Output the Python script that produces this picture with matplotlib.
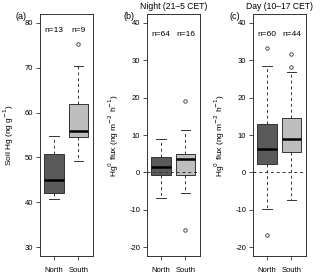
import numpy as np
import matplotlib

matplotlib.use("Agg")
import matplotlib.pyplot as plt  # noqa: E402

plt.rcParams["font.family"] = ["Liberation Sans", "DejaVu Sans"]
plt.rcParams["axes.unicode_minus"] = False

groups = ["North", "South"]

# box stats: whislo, q1, med, q3, whishi, fliers
soil_stats = [
    (40.8, 42.0, 45.0, 50.7, 54.8, []),
    (49.2, 54.5, 55.8, 62.0, 70.5, [75.2]),
]
night_stats = [
    (-7.0, -0.8, 1.3, 4.0, 9.0, []),
    (-5.5, -0.8, 3.6, 5.0, 11.3, [19.0, -15.5]),
]
day_stats = [
    (-9.8, 2.2, 6.3, 13.0, 28.5, [33.2, -16.8]),
    (-7.5, 5.5, 9.0, 14.6, 26.8, [31.8, 28.2]),
]
soil_n = ["n=13", "n=9"]
night_n = ["n=64", "n=16"]
day_n = ["n=60", "n=44"]

colors = ["#5a5a5a", "#bebebe"]
flux_label = "Hg$^0$ flux (ng m$^{-2}$ h$^{-1}$)"

panels = [
    dict(stats=soil_stats, n=soil_n, label="(a)", title=None,
         ylabel="Soil Hg (ng g$^{-1}$)", yticks=np.arange(30, 81, 10),
         ylim=(28, 82), ny=78.3, zero=False, left=40),
    dict(stats=night_stats, n=night_n, label="(b)", title="Night (21\u20135 CET)",
         ylabel=flux_label, yticks=np.arange(-20, 41, 10),
         ylim=(-22.4, 42.4), ny=36.8, zero=True, left=147),
    dict(stats=day_stats, n=day_n, label="(c)", title="Day (10\u201317 CET)",
         ylabel=flux_label, yticks=np.arange(-20, 41, 10),
         ylim=(-22.4, 42.4), ny=36.8, zero=True, left=253),
]

W, H = 320, 276
fig = plt.figure(figsize=(W / 100, H / 100), dpi=100)

for p in panels:
    ax = fig.add_axes([p["left"] / W, 20 / H, 52.5 / W, 242 / H])
    bxp = []
    for (lo, q1, med, q3, hi, fl) in p["stats"]:
        bxp.append(dict(whislo=lo, q1=q1, med=med, q3=q3, whishi=hi, fliers=fl))
    res = ax.bxp(bxp, positions=[1, 2], widths=0.8, patch_artist=True,
                 showfliers=True,
                 boxprops=dict(edgecolor="#333333", lw=0.7),
                 medianprops=dict(color="black", lw=1.8),
                 whiskerprops=dict(color="#333333", lw=0.7, ls=(0, (3, 3))),
                 capprops=dict(color="#333333", lw=0.7),
                 capwidths=0.4,
                 flierprops=dict(marker="o", markersize=2.5, markerfacecolor="none",
                                 markeredgecolor="#333333", markeredgewidth=0.6))
    for patch, c in zip(res["boxes"], colors):
        patch.set_facecolor(c)
    if p["zero"]:
        ax.axhline(0, color="#333333", lw=0.7, ls=(0, (3, 3)), zorder=5)
    ax.set_xlim(0.42, 2.58)
    ax.set_ylim(*p["ylim"])
    ax.set_yticks(p["yticks"])
    ax.set_xticks([1, 2])
    ax.set_xticklabels(groups)
    ax.tick_params(labelsize=5.5, length=3, width=0.6, pad=2, color="#333333")
    ax.tick_params(axis="x", pad=5)
    for s in ax.spines.values():
        s.set_linewidth(0.7)
        s.set_color("#333333")
    for i, t in enumerate(p["n"]):
        ax.text(i + 1, p["ny"], t, ha="center", va="center", fontsize=6)
    ax.set_ylabel(p["ylabel"], fontsize=6, labelpad=6)
    ax.text(-24 / 52.5, 0.99, p["label"], transform=ax.transAxes, fontsize=6.5,
            ha="left", va="center")
    if p["title"]:
        ax.set_title(p["title"], fontsize=6.2, pad=3.5)

fig.savefig("out.png", dpi=100)
